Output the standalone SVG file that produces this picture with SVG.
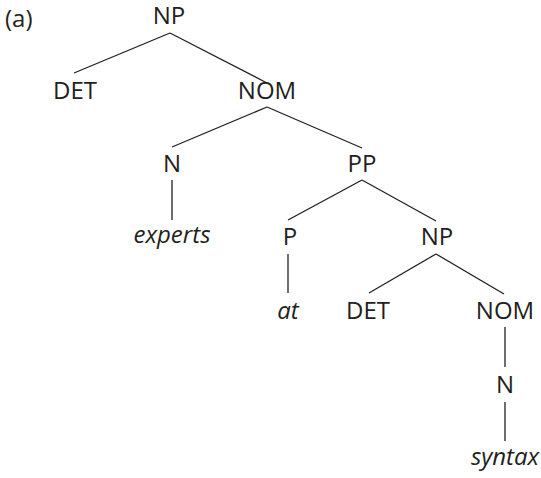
<svg xmlns="http://www.w3.org/2000/svg" width="541" height="478" viewBox="0 0 541 478">
<style>
text{font-family:"Open Sans","Noto Sans","Liberation Sans",sans-serif;font-size:24px;fill:#231f20;text-anchor:middle}
.w{font-style:italic}
line{stroke:#231f20;stroke-width:1.3}
</style>
<rect width="541" height="478" fill="#fff"/>
<text x="5" y="27" style="text-anchor:start">(a)</text>
<g id="connectors">
<line x1="170" y1="33" x2="74" y2="73"/>
<line x1="170" y1="33" x2="267" y2="83"/>
<line x1="267" y1="107" x2="172" y2="147"/>
<line x1="267" y1="107" x2="362" y2="148"/>
<line x1="172" y1="180" x2="172" y2="220"/>
<line x1="362" y1="180" x2="288" y2="220"/>
<line x1="362" y1="180" x2="436" y2="221"/>
<line x1="288" y1="254" x2="288" y2="293"/>
<line x1="436" y1="254" x2="369" y2="293"/>
<line x1="436" y1="254" x2="504" y2="294"/>
<line x1="505" y1="327" x2="505" y2="367"/>
<line x1="505" y1="402" x2="505" y2="441"/>
</g>
<g id="np1"><text x="169" y="24">NP</text></g>
<g id="det1"><text x="75" y="99">DET</text></g>
<g id="nom1"><text x="267" y="99">NOM</text></g>
<g id="n1"><text x="172" y="172">N</text></g>
<g id="pp"><text x="362" y="172">PP</text></g>
<g id="experts"><text class="w" x="172" y="243">experts</text></g>
<g id="p"><text x="290" y="245">P</text></g>
<g id="np2"><text x="437" y="245">NP</text></g>
<g id="at"><text class="w" x="288" y="319">at</text></g>
<g id="det2"><text x="368" y="319">DET</text></g>
<g id="nom2"><text x="505" y="319">NOM</text></g>
<g id="n2"><text x="505" y="393">N</text></g>
<g id="syntax"><text class="w" x="505" y="465">syntax</text></g>
</svg>
